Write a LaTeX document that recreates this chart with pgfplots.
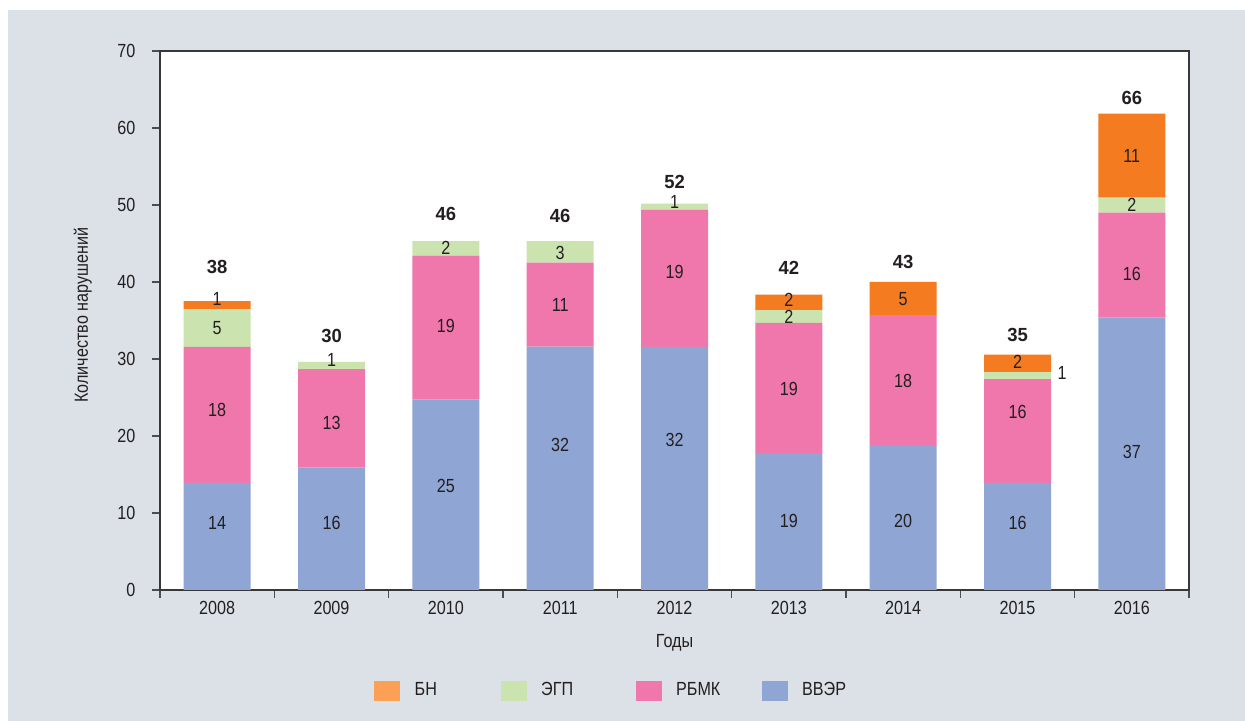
\documentclass[border=0pt]{standalone}
\usepackage{fontspec}
\setmainfont[FakeStretch=0.85]{Liberation Sans}
\newfontfamily\totfont[FakeStretch=0.97]{Liberation Sans}
\usepackage{pgfplots}
\usepackage{pgfplotstable}
\pgfplotsset{compat=1.18}
\definecolor{vver}{HTML}{8FA6D4}
\definecolor{rbmk}{HTML}{F077AB}
\definecolor{egp}{HTML}{CBE3AF}
\definecolor{bn}{HTML}{F47B20}
\definecolor{bnleg}{HTML}{FBA055}
\definecolor{bg}{HTML}{DBE1E7}
\definecolor{txt}{HTML}{231F20}
\newcommand\fs{\fontsize{9.5}{11.4}\selectfont}

% drawn segment heights (as they appear in the picture)
\pgfplotstableread{
x vver rbmk egp bn
0 13.90 17.66 4.93 1.04
1 15.88 12.82 0.91 0
2 24.71 18.71 1.90 0
3 31.60 10.91 2.81 0
4 31.56 17.83 0.78 0
5 17.79 16.89 1.68 1.99
6 18.83 16.88 0 4.29
7 13.90 13.50 0.91 2.25
8 35.36 13.64 1.95 10.91
}\bars

% segment labels (reported values) and where they sit
\pgfplotstableread{
x y lab
0 8.66 14
0 23.38 18
0 34.06 5
0 37.79 1
1 8.70 16
1 21.69 13
1 29.87 1
2 13.51 25
2 34.29 19
2 44.38 2
3 18.83 32
3 37.01 11
3 43.73 3
4 19.48 32
4 41.30 19
4 50.43 1
5 8.96 19
5 26.06 19
5 35.49 2
5 37.66 2
6 8.96 20
6 27.18 18
6 37.79 5
7 8.66 16
7 23.16 16
7.39 28.14 1
7 29.61 2
8 17.96 37
8 41.04 16
8 50.00 2
8 56.36 11
}\labs

% totals
\pgfplotstableread{
x y lab
0 41.9 38
1 33.0 30
2 48.9 46
3 48.6 46
4 53.0 52
5 41.8 42
6 42.6 43
7 33.1 35
8 63.9 66
}\tots

\pgfplotsset{
  base/.style={
    scale only axis, width=514.5pt, height=269.5pt,
    at={(80pt,65.5pt)}, anchor=south west,
    xmin=-0.5, xmax=8.5, ymin=0, ymax=70,
  }
}

\begin{document}
\begin{tikzpicture}[font=\fs, text=txt]
\useasboundingbox (0,0) rectangle (622.5pt,360.5pt);
\fill[white] (0,0) rectangle (622.5pt,360.5pt);
\fill[bg] (4pt,0) rectangle (622.5pt,355.5pt);
\begin{axis}[base,
  ybar stacked, bar width=33.5pt,
  axis background/.style={fill=white},
  axis line style={line width=0.8pt, draw=black!78},
  tick align=outside,
  major tick length=4pt,
  tick style={line width=0.8pt, draw=black!70},
  ytick={0,10,...,70},
  ytick pos=left,
  xtick={-0.5,0.5,...,8.5},
  xticklabels={},
  xtick pos=bottom,
  extra x ticks={0,1,...,8},
  extra x tick labels={2008,2009,2010,2011,2012,2013,2014,2015,2016},
  extra x tick style={major tick length=0pt, tick style={draw=none}},
  xticklabel style={yshift=-2.2pt},
  yticklabel style={xshift=-4.8pt},
  /pgf/number format/assume math mode=true,
  xlabel={Годы},
  xlabel style={at={(axis description cs:0.5,-0.098)}, anchor=center},
  ylabel={Количество нарушений},
  ylabel style={at={(axis description cs:-0.075,0.51)}, anchor=center},
  legend columns=4,
  legend style={at={(axis description cs:0.2083,-0.1865)}, anchor=west,
    draw=none, fill=none, inner sep=0pt, outer sep=0pt,
    nodes={inner sep=0pt, anchor=west},
    /tikz/every odd column/.style={column sep=7.3pt},
    /tikz/every even column/.style={column sep=0pt}},
]
\addplot[forget plot, fill=vver, draw=none] table[x=x, y=vver] \bars;
\addplot[forget plot, fill=rbmk, draw=none] table[x=x, y=rbmk] \bars;
\addplot[forget plot, fill=egp, draw=none] table[x=x, y=egp] \bars;
\addplot[forget plot, fill=bn, draw=none] table[x=x, y=bn] \bars;
\addlegendimage{legend image code/.code={\fill[bnleg] (0pt,-4.75pt) rectangle (12.5pt,4.75pt);}}
\addlegendentry{\makebox[43pt][l]{БН}}
\addlegendimage{legend image code/.code={\fill[egp] (0pt,-4.75pt) rectangle (12.5pt,4.75pt);}}
\addlegendentry{\makebox[47.3pt][l]{ЭГП}}
\addlegendimage{legend image code/.code={\fill[rbmk] (0pt,-4.75pt) rectangle (12.5pt,4.75pt);}}
\addlegendentry{\makebox[42.8pt][l]{РБМК}}
\addlegendimage{legend image code/.code={\fill[vver] (0pt,-4.75pt) rectangle (12.5pt,4.75pt);}}
\addlegendentry{ВВЭР}
\end{axis}
\begin{axis}[base, hide axis, clip=false]
\addplot[only marks, mark=none, nodes near coords, point meta=explicit symbolic,
  every node near coord/.append style={anchor=center, font=\fs, text=txt, inner sep=0pt}]
  table[x=x, y=y, meta=lab] \labs;
\addplot[only marks, mark=none, nodes near coords, point meta=explicit symbolic,
  every node near coord/.append style={anchor=center, font=\totfont\bfseries\fs, text=txt, inner sep=0pt}]
  table[x=x, y=y, meta=lab] \tots;
\end{axis}
\end{tikzpicture}
\end{document}
